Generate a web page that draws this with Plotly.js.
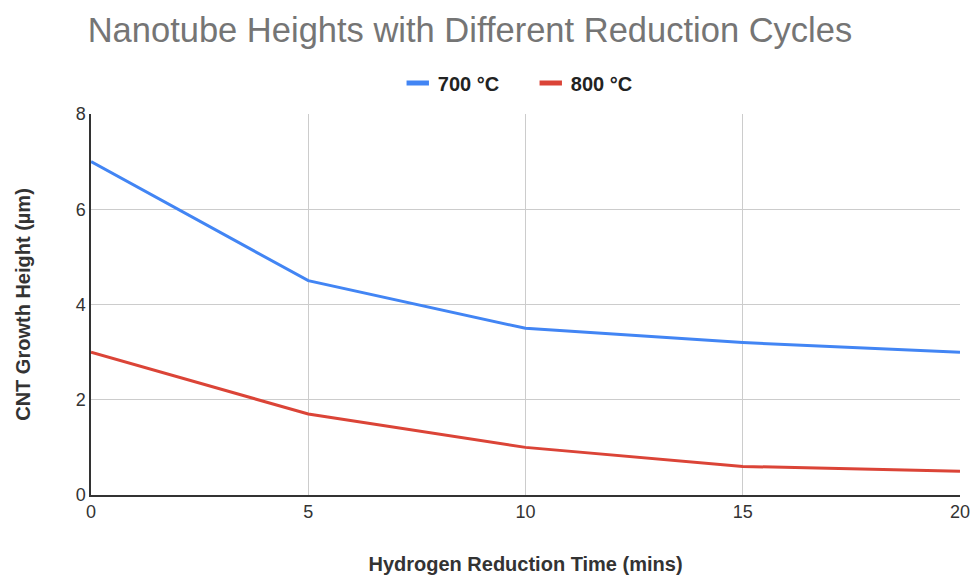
<!DOCTYPE html>
<html>
<head>
<meta charset="utf-8">
<script src="https://cdn.plot.ly/plotly-3.0.1.min.js"></script>
<style>html,body{margin:0;padding:0;background:#fff;}#chart{width:974px;height:576px;}</style>
</head>
<body>
<div id="chart"></div>
<script>
const xTimes = [0, 5, 10, 15, 20];
const series700 = [7.0, 4.5, 3.5, 3.2, 3.0];
const series800 = [3.0, 1.7, 1.0, 0.6, 0.5];
const seriesNames = ["700 °C", "800 °C"];
const seriesColors = ["#4285F4", "#DB4437"];

const traces = [
  {x: xTimes, y: series700, name: seriesNames[0], type: "scatter", mode: "lines",
   line: {color: seriesColors[0], width: 3}, showlegend: false},
  {x: xTimes, y: series800, name: seriesNames[1], type: "scatter", mode: "lines",
   line: {color: seriesColors[1], width: 3}, showlegend: false},
  {x: [null], y: [null], name: seriesNames[0], type: "scatter", mode: "markers",
   marker: {symbol: "line-ew-open", size: 22, color: seriesColors[0], line: {color: seriesColors[0], width: 6}}},
  {x: [null], y: [null], name: seriesNames[1], type: "scatter", mode: "markers",
   marker: {symbol: "line-ew-open", size: 22, color: seriesColors[1], line: {color: seriesColors[1], width: 6}}}
];

const FONT = "Arial, 'Liberation Sans', sans-serif";
const layout = {
  width: 974, height: 576,
  margin: {l: 91, r: 14, t: 114, b: 81},
  paper_bgcolor: "#fff", plot_bgcolor: "#fff",
  font: {family: FONT, color: "#444"},
  title: {text: "Nanotube Heights with Different Reduction Cycles", x: 0.09, xanchor: "left",
          y: 0.948, yanchor: "middle",
          font: {family: FONT, size: 34.5, color: "#757575"}},
  showlegend: true,
  legend: {orientation: "h", x: 0.353, xanchor: "left", y: 1.03, yanchor: "bottom",
           font: {family: FONT, size: 20, color: "#222", weight: "bold"},
           itemwidth: 30, tracegroupgap: 0, entrywidth: 88, entrywidthmode: "pixels"},
  xaxis: {range: [0, 20], tickvals: xTimes, ticks: "", showline: true, linecolor: "#333", linewidth: 1.5,
          showgrid: true, gridcolor: "#cccccc", zeroline: false,
          tickfont: {family: FONT, size: 18, color: "#333"},
          title: {text: "Hydrogen Reduction Time (mins)", standoff: 36,
                  font: {family: FONT, size: 20, color: "#333", weight: "bold"}}},
  yaxis: {range: [0, 8], dtick: 2, ticks: "", showline: true, linecolor: "#333", linewidth: 1.5,
          showgrid: true, gridcolor: "#cccccc", zeroline: false,
          tickfont: {family: FONT, size: 18, color: "#333"},
          title: {text: "CNT Growth Height (µm)", standoff: 40,
                  font: {family: FONT, size: 20, color: "#333", weight: "bold"}}}
};

Plotly.newPlot("chart", traces, layout, {displayModeBar: false});
</script>
</body>
</html>
